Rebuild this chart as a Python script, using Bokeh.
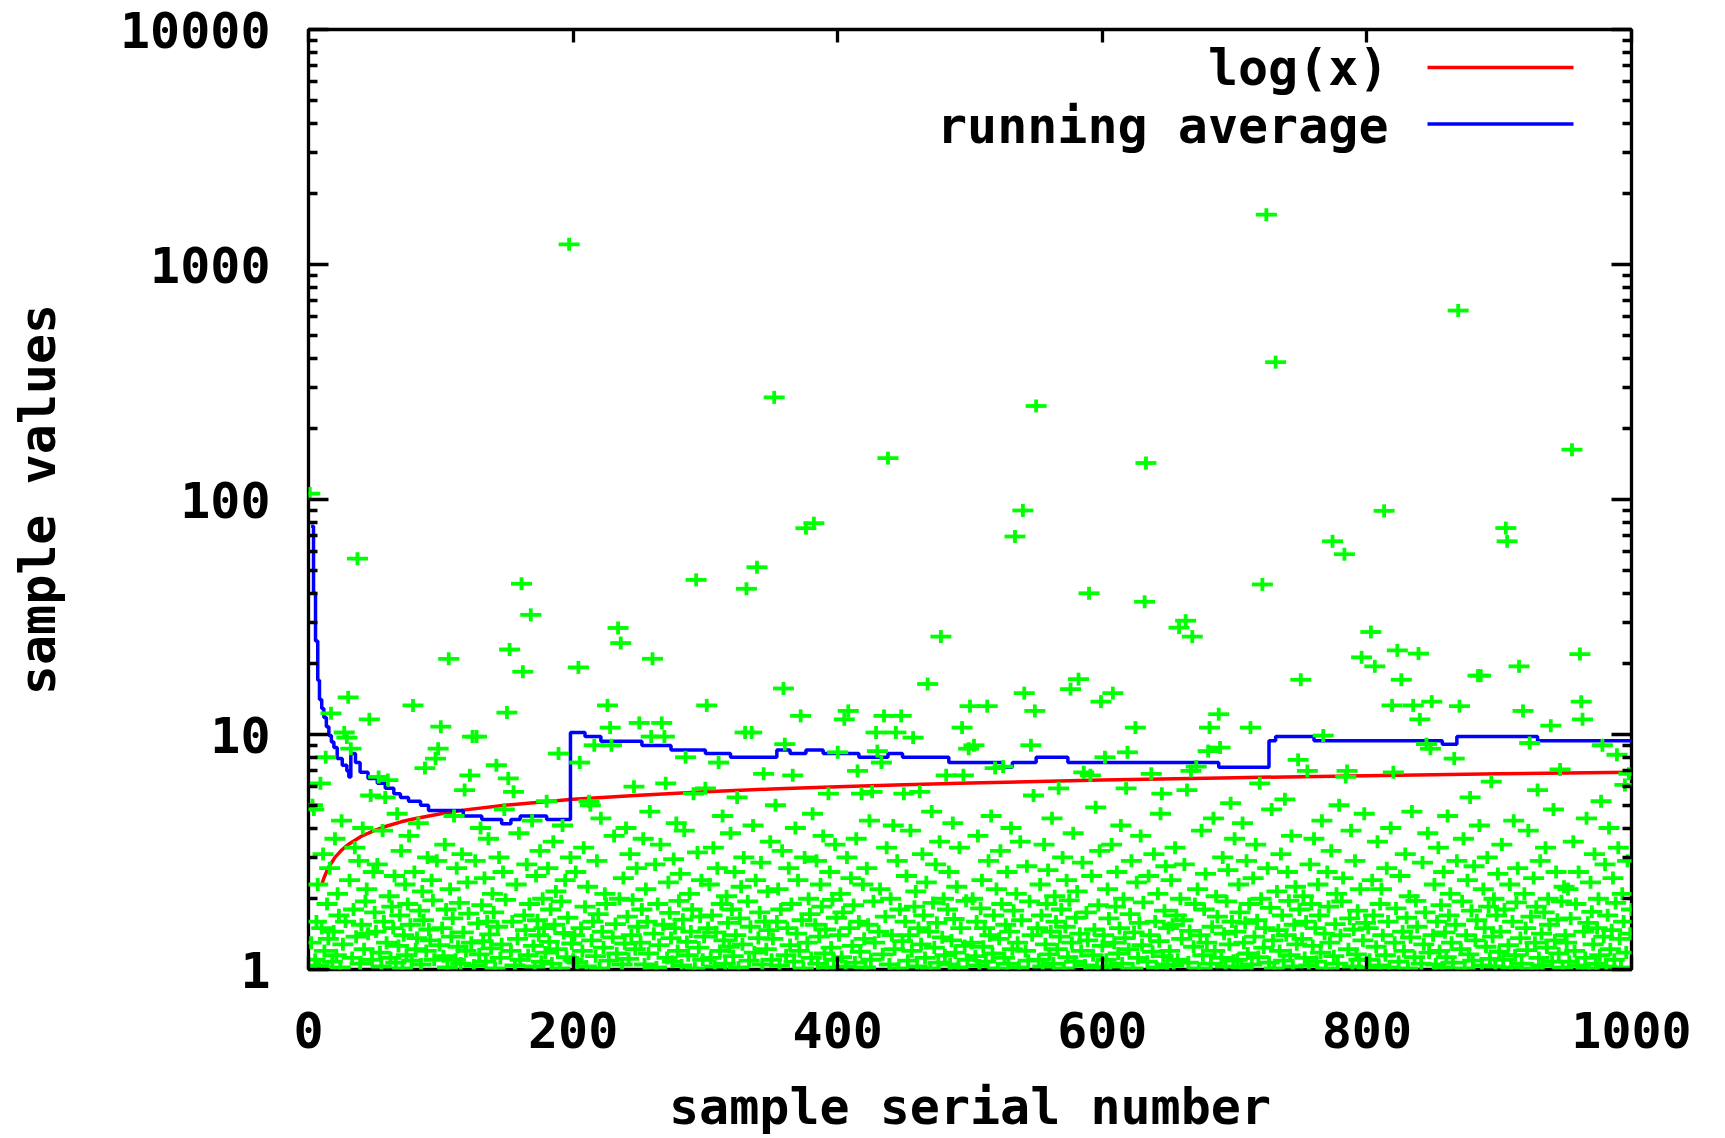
import math
from bokeh.plotting import figure
from bokeh.models import (Range1d, LogAxis, LinearAxis, FixedTicker, CustomJSTickFormatter,
                          PrintfTickFormatter, Label, BoxAnnotation)
from bokeh.embed import file_html
from bokeh.resources import INLINE

FONT = "DejaVu Sans Mono"

# ---- data (serial numbers 1..1000) ----
sample_values = [
    106, 1.3, 5.0, 4.8, 1.1, 1.6, 2.3, 1.04, 6.2, 1.5,
    3.1, 1.2, 8.0, 1.9, 1.35, 2.7, 12.3, 1.08, 1.45, 3.6,
    1.15, 2.1, 1.7, 1.02, 4.3, 1.28, 10.2, 1.6, 9.7, 14.4,
    2.4, 8.7, 1.12, 1.8, 3.3, 1.38, 56, 2.9, 1.06, 1.55,
    4.0, 1.22, 1.95, 2.2, 1.42, 11.6, 5.5, 1.1, 2.6, 1.75,
    1.45, 2.8, 6.6, 1.18, 1.03, 3.9, 1.6, 5.4, 1.3, 6.4,
    2.05, 1.12, 1.85, 1.5, 2.5, 1.07, 4.6, 1.26, 1.7, 3.2,
    1.01, 1.4, 2.3, 1.15, 1.9, 3.7, 1.55, 1.09, 13.3, 2.6,
    1.22, 1.36, 4.2, 1.78, 1.05, 2.15, 1.62, 7.2, 1.2, 3.0,
    1.48, 1.33, 2.4, 1.97, 1.1, 7.9, 2.9, 8.7, 1.27, 10.8,
    1.5, 1.14, 3.4, 1.8, 1.02, 21, 2.2, 1.38, 1.65, 4.5,
    1.1, 2.7, 1.25, 1.92, 1.06, 3.1, 1.44, 5.8, 1.2, 2.35,
    1.73, 6.7, 1.3, 9.8, 1.04, 2.9, 9.8, 1.57, 1.16, 4.0,
    1.88, 1.32, 2.45, 1.08, 1.6, 3.6, 1.41, 1.23, 2.1, 1.75,
    1.01, 7.4, 1.52, 3.0, 1.12, 1.28, 2.6, 4.8, 1.98, 12.4,
    6.5, 23, 1.2, 1.6, 5.7, 1.04, 2.3, 1.35, 3.8, 1.1,
    43.8, 18.5, 1.7, 1.47, 2.8, 1.15, 1.9, 32.3, 4.3, 1.26,
    1.03, 2.5, 1.62, 1.4, 3.2, 1.08, 2.0, 1.5, 1.18, 5.2,
    2.7, 1.31, 1.8, 1.06, 3.5, 1.55, 2.15, 1.22, 8.3, 1.01,
    1.95, 4.1, 1.43, 2.4, 1.13, 1.66, 1218, 3.0, 1.29, 1.1,
    1.4, 2.6, 1.07, 19.3, 7.6, 1.5, 1.2, 3.3, 1.85, 1.03,
    2.25, 5.2, 5.0, 1.33, 1.6, 9.0, 1.14, 2.9, 1.72, 1.01,
    4.4, 1.45, 1.24, 2.1, 1.9, 13.3, 1.09, 10.7, 9.0, 1.37,
    3.7, 1.56, 1.17, 28.4, 2.0, 24.5, 1.05, 2.45, 1.29, 4.0,
    1.68, 1.11, 3.1, 1.4, 1.98, 6.0, 1.22, 2.7, 1.52, 11.2,
    1.3, 1.8, 3.6, 1.05, 2.2, 1.6, 1.17, 4.7, 9.8, 21,
    1.42, 2.8, 1.02, 1.9, 1.27, 3.4, 11.2, 1.55, 9.8, 6.2,
    1.12, 2.35, 1.74, 1.36, 1.08, 2.95, 1.5, 4.2, 1.2, 1.96,
    2.55, 1.04, 1.63, 3.9, 8.0, 1.31, 1.15, 2.1, 1.45, 1.8,
    5.6, 1.01, 45.5, 3.15, 1.24, 1.68, 2.4, 1.1, 1.38, 5.9,
    13.3, 1.5, 2.3, 1.12, 1.7, 3.3, 1.03, 1.44, 2.7, 7.6,
    1.2, 1.9, 4.5, 1.33, 1.06, 2.05, 1.58, 1.25, 3.8, 1.8,
    1.14, 2.6, 1.4, 5.4, 1.02, 1.65, 2.25, 1.28, 3.0, 10.2,
    41.7, 1.95, 1.09, 1.52, 10.2, 4.1, 1.18, 2.4, 51.5, 1.36,
    1.75, 2.85, 1.05, 6.8, 1.6, 1.22, 2.15, 1.47, 3.5, 1.1,
    1.35, 272, 5.0, 1.6, 2.2, 1.04, 1.8, 3.2, 15.7, 9.1,
    1.15, 1.5, 2.7, 1.27, 1.9, 6.7, 1.08, 4.0, 1.42, 2.4,
    1.2, 12.0, 1.62, 1.01, 3.0, 75.5, 1.3, 2.0, 1.72, 1.12,
    4.6, 79.3, 1.55, 2.9, 1.06, 1.38, 2.3, 1.85, 3.7, 1.17,
    1.48, 1.02, 5.6, 2.6, 1.24, 1.98, 1.1, 3.4, 1.66, 8.4,
    1.4, 2.1, 1.13, 1.75, 11.6, 1.03, 3.0, 12.6, 1.5, 2.45,
    1.26, 1.88, 1.07, 3.6, 7.0, 1.6, 1.19, 5.6, 2.3, 1.35,
    1.02, 2.7, 1.55, 4.3, 1.1, 5.7, 1.95, 1.3, 10.2, 8.5,
    1.45, 2.2, 7.6, 1.16, 12.0, 1.68, 3.3, 150, 1.05, 2.0,
    1.4, 4.1, 1.22, 10.2, 2.9, 1.01, 1.8, 12.0, 1.32, 5.6,
    1.6, 2.5, 1.09, 1.4, 3.9, 1.2, 9.7, 1.85, 2.15, 1.03,
    1.5, 5.7, 1.28, 3.1, 1.7, 1.12, 2.35, 16.4, 1.45, 1.01,
    4.7, 1.92, 1.24, 2.8, 1.58, 1.07, 3.5, 26.1, 1.37, 2.0,
    1.15, 6.7, 1.8, 2.6, 1.05, 1.33, 4.2, 1.64, 1.18, 2.25,
    1.02, 3.3, 1.5, 10.7, 6.7, 1.26, 1.96, 1.1, 8.7, 13.2,
    1.3, 2.0, 9.0, 1.14, 1.6, 3.7, 1.04, 1.82, 2.4, 1.25,
    1.5, 1.08, 13.2, 2.9, 1.4, 4.5, 1.17, 1.7, 7.2, 2.2,
    1.01, 1.35, 3.2, 1.9, 7.3, 1.12, 1.55, 2.6, 1.06, 1.45,
    4.0, 1.22, 1.78, 69.6, 2.1, 1.3, 1.02, 3.5, 1.62, 89.8,
    15.0, 1.2, 2.75, 1.09, 1.95, 9.0, 1.4, 5.5, 12.6, 250,
    1.5, 1.1, 2.3, 1.7, 1.03, 3.4, 1.28, 1.9, 2.65, 1.16,
    1.45, 4.4, 1.06, 2.05, 1.6, 1.22, 5.9, 1.38, 1.8, 3.0,
    1.01, 1.52, 2.4, 1.13, 1.97, 15.6, 1.3, 3.8, 1.08, 1.66,
    2.15, 17.2, 1.42, 1.2, 2.85, 6.9, 1.04, 1.75, 1.33, 39.9,
    6.7, 2.5, 1.15, 1.48, 4.9, 1.02, 1.88, 3.2, 13.8, 1.26,
    1.4, 8.0, 1.1, 2.2, 1.65, 1.03, 3.4, 15.0, 1.3, 1.85,
    2.6, 1.17, 1.5, 4.1, 1.06, 2.0, 1.36, 5.9, 8.4, 1.22,
    1.72, 2.9, 1.01, 1.44, 10.7, 2.35, 1.12, 1.58, 3.7, 1.27,
    1.93, 36.7, 143, 1.08, 2.5, 1.4, 6.8, 1.19, 3.1, 1.6,
    1.02, 2.1, 1.32, 4.6, 5.6, 1.14, 1.78, 2.75, 1.05, 1.5,
    1.2, 2.4, 1.55, 1.04, 3.3, 1.7, 1.1, 28.5, 2.0, 1.35,
    1.62, 2.8, 30.5, 5.8, 1.07, 1.46, 7.0, 26.1, 1.25, 1.9,
    7.3, 2.2, 1.01, 1.4, 3.9, 1.15, 1.8, 2.55, 1.3, 8.5,
    10.7, 1.06, 1.52, 4.4, 1.2, 2.05, 1.68, 12.2, 8.8, 1.12,
    3.0, 1.42, 1.03, 1.95, 2.65, 1.28, 5.1, 1.6, 1.09, 3.6,
    1.45, 1.1, 2.3, 1.75, 1.02, 4.2, 1.3, 1.58, 2.9, 1.17,
    1.9, 10.7, 1.05, 2.45, 1.38, 3.4, 1.62, 1.13, 6.2, 2.0,
    43.5, 1.24, 1.5, 1630, 2.7, 1.07, 1.83, 4.8, 1.33, 1.01,
    384, 2.15, 1.47, 1.2, 3.1, 1.7, 1.09, 5.3, 1.4, 2.6,
    1.96, 1.15, 3.7, 1.03, 1.55, 2.25, 1.28, 7.8, 1.8, 17.1,
    1.35, 2.05, 1.12, 1.6, 7.0, 1.04, 2.8, 1.9, 1.26, 3.6,
    1.5, 1.08, 2.3, 1.7, 1.18, 4.3, 9.9, 1.42, 1.01, 2.6,
    1.85, 1.3, 3.2, 66.4, 1.14, 1.56, 2.1, 1.06, 5.0, 1.4,
    1.95, 2.45, 58.5, 6.6, 7.0, 1.22, 1.65, 3.9, 1.03, 1.48,
    2.9, 1.16, 1.78, 1.1, 2.2, 21.3, 1.33, 4.6, 1.58, 1.02,
    1.5, 1.1, 27.3, 2.4, 1.7, 19.5, 1.25, 3.5, 1.04, 1.9,
    2.2, 1.4, 89.5, 1.15, 2.7, 1.6, 1.02, 4.0, 13.3, 6.9,
    1.3, 1.82, 22.8, 1.08, 2.5, 17.1, 1.45, 1.2, 3.1, 1.66,
    1.01, 2.05, 1.37, 4.7, 13.3, 1.13, 1.96, 1.52, 22.1, 11.6,
    1.06, 2.85, 1.28, 1.75, 9.1, 3.8, 1.18, 8.7, 13.8, 1.4,
    2.3, 1.05, 1.6, 3.3, 1.2, 1.88, 1.02, 2.6, 1.44, 1.13,
    4.5, 1.7, 2.1, 1.3, 1.07, 7.9, 1.55, 2.9, 637, 13.2,
    1.22, 1.95, 3.6, 1.01, 1.4, 2.4, 1.16, 5.4, 1.78, 1.09,
    2.75, 1.33, 1.62, 17.8, 4.1, 17.8, 1.04, 2.2, 1.5, 1.25,
    3.0, 1.85, 1.11, 6.3, 1.38, 2.0, 1.03, 1.7, 2.55, 1.19,
    1.45, 3.4, 1.1, 1.8, 75.6, 66.4, 1.27, 2.3, 1.02, 1.6,
    4.3, 1.15, 1.93, 2.7, 19.5, 1.36, 1.06, 12.6, 2.1, 1.5,
    1.21, 3.9, 9.2, 1.68, 1.01, 2.45, 1.3, 1.85, 5.8, 1.12,
    2.9, 1.42, 1.04, 1.75, 3.3, 1.24, 2.0, 1.55, 10.9, 1.08,
    4.8, 1.33, 2.6, 1.63, 1.17, 7.1, 1.95, 1.02, 2.25, 1.4,
    1.3, 2.2, 1.08, 1.65, 163, 3.5, 1.2, 1.9, 1.04, 2.6,
    22.0, 13.8, 11.6, 1.45, 1.12, 4.4, 1.58, 1.01, 2.35, 1.76,
    1.28, 3.1, 1.06, 1.5, 2.0, 1.15, 5.2, 9.0, 1.38, 2.8,
    1.03, 1.7, 4.0, 1.22, 1.47, 2.45, 1.1, 1.92, 8.2, 3.3,
    1.35, 1.02, 2.1, 1.6, 6.1, 1.18, 2.9, 6.8, 1.42, 1.8,
]
sample_serial = list(range(1, len(sample_values) + 1))

# log(x) curve
log_x = [10, 12, 15, 20, 25, 30, 40, 50, 60, 70, 80, 100, 120, 150, 200, 250,
         300, 350, 400, 450, 500, 600, 700, 800, 900, 1000]
log_y = [2.3, 2.48, 2.71, 3.0, 3.22, 3.4, 3.69, 3.91, 4.09, 4.25, 4.38, 4.6, 4.79,
         5.01, 5.3, 5.52, 5.7, 5.86, 5.99, 6.11, 6.21, 6.4, 6.55, 6.68, 6.8, 6.91]

# running average (staircase)
avg_x = [2, 3.8, 5.3, 7, 8.3, 10, 11.6, 13.5, 15.4, 17.3, 19.2, 21.7, 25.5, 29, 30.5,
         32, 35.5, 39, 45, 52, 58, 64.5, 69.5, 75.6, 84.7, 90.7, 117, 131, 146, 153,
         160, 180, 198, 209, 221, 252, 274, 300, 319, 354, 364, 376, 389, 416, 438,
         449, 484, 525, 532, 550, 574, 688, 726, 731, 760, 857, 868, 929, 1000]
avg_y = [77, 40, 25, 17, 14.1, 12.9, 11.8, 10.8, 9.9, 9.3, 8.8, 7.9, 7.4, 7.0, 6.6,
         8.3, 7.6, 6.9, 6.5, 6.2, 5.9, 5.6, 5.4, 5.2, 5.0, 4.75, 4.5, 4.35, 4.17, 4.35,
         4.5, 4.35, 10.2, 9.8, 9.35, 8.98, 8.6, 8.3, 8.0, 8.6, 8.3, 8.6, 8.3, 8.0, 8.3,
         8.0, 7.6, 7.25, 7.6, 8.0, 7.6, 7.25, 9.4, 9.8, 9.4, 9.1, 9.8, 9.4, 9.4]

x_ticks = [0, 200, 400, 600, 800, 1000]
y_ticks = [1, 10, 100, 1000, 10000]
y_minor = [m * d for d in (1, 10, 100, 1000) for m in range(2, 10)]

legend_labels = ["log(x)", "running average"]
x_title = "sample serial number"
y_title = "sample values"

# ---- figure ----
p = figure(width=1725, height=1138, output_backend="svg", toolbar_location=None,
           x_range=Range1d(0, 1000), y_range=Range1d(1, 10000), y_axis_type="log",
           min_border_left=308, min_border_right=94, min_border_top=29, min_border_bottom=169)
p.background_fill_color = "white"
p.border_fill_color = "white"
p.grid.visible = False
p.outline_line_color = "black"
p.outline_line_width = 3.3

xa = p.xaxis[0]
ya = p.yaxis[0]

FS = "50px"

def style_common(ax):
    ax.axis_line_color = None
    ax.major_tick_line_color = "black"
    ax.major_tick_line_width = 3.3
    ax.minor_tick_line_color = "black"
    ax.minor_tick_line_width = 3.3
    ax.major_tick_out = 0
    ax.minor_tick_out = 0
    ax.major_label_text_font = FONT
    ax.major_label_text_font_style = "bold"
    ax.major_label_text_font_size = FS
    ax.major_label_text_color = "black"
    ax.axis_label_text_font = FONT
    ax.axis_label_text_font_style = "bold"
    ax.axis_label_text_font_size = FS
    ax.axis_label_text_color = "black"

style_common(xa)
xa.ticker = FixedTicker(ticks=x_ticks)
xa.major_tick_in = 13
xa.minor_tick_line_color = None
xa.major_label_standoff = 42
xa.axis_label = x_title
xa.axis_label_standoff = 27

style_common(ya)
ya.ticker = FixedTicker(ticks=y_ticks, minor_ticks=y_minor)
ya.formatter = PrintfTickFormatter(format="%d")
ya.major_tick_in = 20
ya.minor_tick_in = 9
ya.major_label_standoff = 38
ya.axis_label = y_title
ya.axis_label_standoff = 50

empty = CustomJSTickFormatter(code="return ''")
ra = LogAxis(ticker=FixedTicker(ticks=y_ticks, minor_ticks=y_minor), formatter=empty)
style_common(ra)
ra.major_tick_in = 20
ra.minor_tick_in = 9
ra.major_label_text_font_size = "1px"
ra.major_label_standoff = 0
p.add_layout(ra, "right")

ta = LinearAxis(ticker=FixedTicker(ticks=x_ticks), formatter=empty)
style_common(ta)
ta.major_tick_in = 13
ta.minor_tick_line_color = None
ta.major_label_text_font_size = "1px"
ta.major_label_standoff = 0
p.add_layout(ta, "above")

# ---- series ----
p.line(log_x, log_y, line_color="#ff0000", line_width=3.5)
p.step(avg_x, avg_y, mode="after", line_color="#0000ff", line_width=3.5)

p.scatter(sample_serial, sample_values, marker="dash", size=21,
          line_color="#00ff00", line_width=3.8, fill_color=None)
p.scatter(sample_serial, sample_values, marker="dash", size=13, angle=math.pi / 2,
          line_color="#00ff00", line_width=3.8, fill_color=None)

# ---- legend (gnuplot style: text then sample line) ----
legend_colors = ["#ff0000", "#0000ff"]
legend_baselines = [902, 844]
legend_line_mid = [902, 845.5]
for lab, col, yb, ym in zip(legend_labels, legend_colors, legend_baselines, legend_line_mid):
    p.add_layout(Label(x=1080, y=yb, x_units="screen", y_units="screen", text=lab,
                       text_align="right", text_baseline="alphabetic",
                       text_font=FONT, text_font_style="bold", text_font_size=FS,
                       text_color="black"))
    p.add_layout(BoxAnnotation(left=1119, right=1265, bottom=ym - 1.75, top=ym + 1.75,
                               left_units="screen", right_units="screen",
                               bottom_units="screen", top_units="screen",
                               fill_color=col, fill_alpha=1.0, line_color=None))

open("out.html", "w").write(file_html(p, INLINE))
